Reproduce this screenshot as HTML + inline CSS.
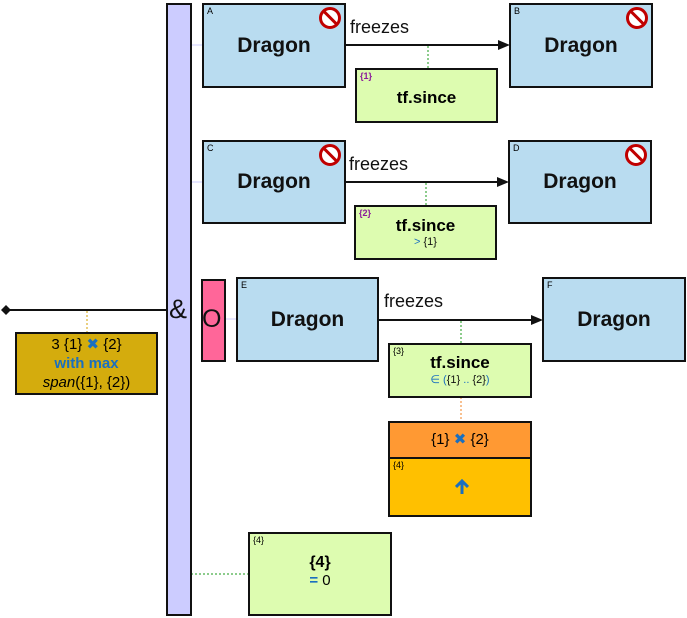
<!DOCTYPE html>
<html><head><meta charset="utf-8"><style>
body{margin:0;width:687px;height:618px;background:#fff;position:relative;overflow:hidden;font-family:"Liberation Sans",sans-serif}
.b{position:absolute;box-sizing:border-box;border:2px solid #111}
.ent{background:#b9dcf0}
.ent .t{position:absolute;left:0;right:0;top:50%;transform:translateY(-50%);text-align:center;font-weight:bold;font-size:21px;color:#111}
.lb{position:absolute;left:3px;top:1px;font-size:9px}
.tf{background:#ddfcb0;text-align:center}
.ic{position:absolute;right:3px;top:2px;width:16px;height:16px;border:3px solid #c00000;border-radius:50%;background:#fff;}
.ic:after{content:"";position:absolute;left:7px;top:-2px;width:3px;height:20px;background:#c00000;transform:rotate(-45deg)}
.txt{position:absolute;font-size:18px;color:#111}
</style></head><body>
<svg width="687" height="618" style="position:absolute;left:0;top:0">
<line x1="5" y1="310" x2="167" y2="310" stroke="#111" stroke-width="2"/>
<polygon points="1,310 6,305 11,310 6,315" fill="#111"/>
<line x1="87" y1="311" x2="87" y2="333" stroke="#d4a000" stroke-dasharray="2,2"/>
<line x1="191" y1="45" x2="203" y2="45" stroke="#ccccff"/>
<line x1="191" y1="182" x2="203" y2="182" stroke="#ccccff"/>
<line x1="225" y1="319" x2="237" y2="319" stroke="#ccccff"/>
<line x1="345" y1="45" x2="500" y2="45" stroke="#111" stroke-width="2"/><polygon points="498,40 510,45 498,50" fill="#111"/>
<line x1="345" y1="182" x2="499" y2="182" stroke="#111" stroke-width="2"/><polygon points="497,177 509,182 497,187" fill="#111"/>
<line x1="378" y1="320" x2="533" y2="320" stroke="#111" stroke-width="2"/><polygon points="531,315 543,320 531,325" fill="#111"/>
<line x1="428" y1="46" x2="428" y2="69" stroke="#1a9a1a" stroke-dasharray="2,2"/>
<line x1="426" y1="183" x2="426" y2="206" stroke="#1a9a1a" stroke-dasharray="2,2"/>
<line x1="461" y1="321" x2="461" y2="344" stroke="#1a9a1a" stroke-dasharray="2,2"/>
<line x1="461" y1="397" x2="461" y2="422" stroke="#f08020" stroke-dasharray="2,2"/>
<line x1="191" y1="574" x2="249" y2="574" stroke="#1a9a1a" stroke-dasharray="2,2"/>
</svg>
<div class="b" style="left:166px;top:3px;width:26px;height:613px;background:#ccccff"></div>
<div class="txt" style="left:169px;top:294px;font-size:27px">&amp;</div>
<div class="b" style="left:15px;top:332px;width:143px;height:63px;background:#d4ac0d;text-align:center;font-size:15px;line-height:19px;padding-top:1px">3 {1} <span style="color:#1a6fc0">✖</span> {2}<br><b style="color:#1a6fc0">with max</b><br><i>span</i>({1}, {2})</div>

<div class="b ent" style="left:202px;top:3px;width:144px;height:85px"><span class="lb">A</span><div class="ic"></div><div class="t">Dragon</div></div>
<div class="b ent" style="left:509px;top:3px;width:144px;height:85px"><span class="lb">B</span><div class="ic"></div><div class="t">Dragon</div></div>
<div class="txt" style="left:350px;top:17px">freezes</div>
<div class="b tf" style="left:355px;top:68px;width:143px;height:55px"><span class="lb" style="color:#8b1a9a;font-weight:bold">{1}</span><div style="font-weight:bold;font-size:17px;margin-top:18px">tf.since</div></div>

<div class="b ent" style="left:202px;top:140px;width:144px;height:84px"><span class="lb">C</span><div class="ic"></div><div class="t">Dragon</div></div>
<div class="b ent" style="left:508px;top:140px;width:144px;height:84px"><span class="lb">D</span><div class="ic"></div><div class="t">Dragon</div></div>
<div class="txt" style="left:349px;top:154px">freezes</div>
<div class="b tf" style="left:354px;top:205px;width:143px;height:55px"><span class="lb" style="color:#8b1a9a;font-weight:bold">{2}</span><div style="font-weight:bold;font-size:17px;margin-top:9px">tf.since</div><div style="font-size:11px;color:#1a6fc0">&gt; <span style="color:#111">{1}</span></div></div>

<div class="b" style="left:201px;top:279px;width:25px;height:83px;background:#ff6699"></div>
<div class="txt" style="left:202px;top:305px;font-size:25px">O</div>
<div class="b ent" style="left:236px;top:277px;width:143px;height:85px"><span class="lb">E</span><div class="t">Dragon</div></div>
<div class="b ent" style="left:542px;top:277px;width:144px;height:85px"><span class="lb">F</span><div class="t">Dragon</div></div>
<div class="txt" style="left:384px;top:291px">freezes</div>
<div class="b tf" style="left:388px;top:343px;width:144px;height:55px"><span class="lb">{3}</span><div style="font-weight:bold;font-size:17px;margin-top:8px">tf.since</div><div style="font-size:11px;color:#1a6fc0">∈ (<span style="color:#111">{1}</span> .. <span style="color:#111">{2}</span>)</div></div>
<div class="b" style="left:388px;top:421px;width:144px;height:38px;background:#ff9933;text-align:center;font-size:15px;line-height:34px">{1} <span style="color:#1a6fc0">✖</span> {2}</div>
<div class="b" style="left:388px;top:457px;width:144px;height:60px;background:#ffc000;text-align:center"><span class="lb">{4}</span>
<svg width="14" height="16" style="position:absolute;left:65px;top:20px"><path d="M7 15V2M1 8L7 2L13 8" stroke="#1a6fc0" stroke-width="3" fill="none"/></svg></div>

<div class="b tf" style="left:248px;top:532px;width:144px;height:84px"><span class="lb">{4}</span><div style="font-weight:bold;font-size:16px;margin-top:20px">{4}</div><div style="font-size:15px"><span style="color:#1a6fc0;font-weight:bold">=</span> 0</div></div>
</body></html>
